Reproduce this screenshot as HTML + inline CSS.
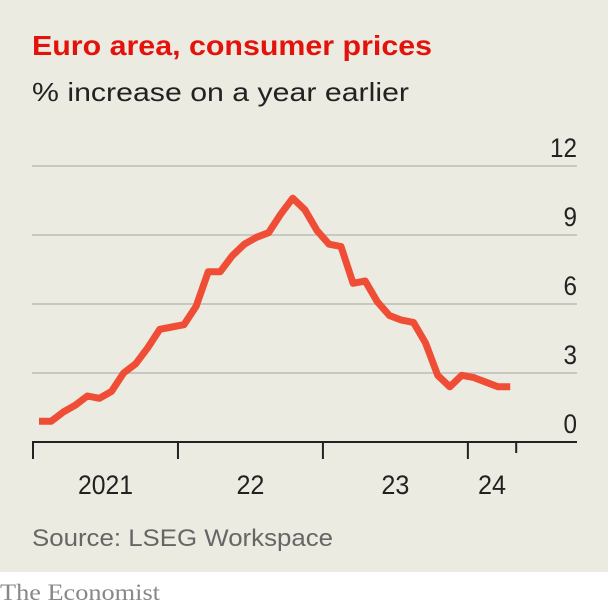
<!DOCTYPE html>
<html><head><meta charset="utf-8"><style>
html,body{margin:0;padding:0;background:#fff}
svg{display:block}
text{font-family:"Liberation Sans",sans-serif}
</style></head><body>
<svg id="chart" width="608" height="608" viewBox="0 0 608 608">
<rect x="0" y="0" width="608" height="572" fill="#ecebe1"/>
<rect x="0" y="572" width="608" height="36" fill="#ffffff"/>
<text x="32" y="55" font-size="28" font-weight="bold" fill="#e3120b" textLength="400" lengthAdjust="spacingAndGlyphs">Euro area, consumer prices</text>
<text x="32" y="101" font-size="26" fill="#222" textLength="377" lengthAdjust="spacingAndGlyphs">% increase on a year earlier</text>
<g id="grid"></g>
<g id="ylabels"></g>
<g id="xaxis"></g>
<path id="line" fill="none" stroke="#ef4d36" stroke-width="7" stroke-linejoin="round"/>
<text x="32" y="546" font-size="24" fill="#666" textLength="301" lengthAdjust="spacingAndGlyphs">Source: LSEG Workspace</text>
<text x="0" y="600" font-size="23" fill="#888" style="font-family:'Liberation Serif',serif" textLength="160" lengthAdjust="spacingAndGlyphs">The Economist</text>
</svg>
<script>
const values = [0.9,0.9,1.3,1.6,2.0,1.9,2.2,3.0,3.4,4.1,4.9,5.0,
  5.1,5.9,7.4,7.4,8.1,8.6,8.9,9.1,9.9,10.6,10.1,9.2,
  8.6,8.5,6.9,7.0,6.1,5.5,5.3,5.2,4.3,2.9,2.4,2.9,
  2.8,2.6,2.4,2.4];
const yTicks = [0,3,6,9,12];
const yearLabels = ["2021","22","23","24"];
const yearStarts = [0,12,24,36];
const NS="http://www.w3.org/2000/svg";
const x0=33, monthW=12.08;
const xs = m => x0 + monthW*m;
const ys = v => 442 - v*23;
const digitW = 13.5;
const grid=document.getElementById('grid'), yl=document.getElementById('ylabels'), xa=document.getElementById('xaxis');
yTicks.forEach(t=>{
  if(t>0){
    const l=document.createElementNS(NS,'line');
    l.setAttribute('x1',32);l.setAttribute('x2',577);l.setAttribute('y1',ys(t));l.setAttribute('y2',ys(t));
    l.setAttribute('stroke','#c8c8c2');l.setAttribute('stroke-width','2');
    
    
    grid.appendChild(l);
  }
  const tx=document.createElementNS(NS,'text');
  tx.setAttribute('x',577);tx.setAttribute('y',ys(t)-9);tx.setAttribute('text-anchor','end');
  tx.setAttribute('font-size','27');tx.setAttribute('fill','#222');
  tx.setAttribute('textLength',String(t).length*digitW);tx.setAttribute('lengthAdjust','spacingAndGlyphs');
  tx.textContent=t;
  
  
  yl.appendChild(tx);
});
const ax=document.createElementNS(NS,'line');
ax.setAttribute('x1',32);ax.setAttribute('x2',577);ax.setAttribute('y1',ys(0));ax.setAttribute('y2',ys(0));
ax.setAttribute('stroke','#222');ax.setAttribute('stroke-width','2');


xa.appendChild(ax);
const tickMonths=[0,12,24,36,values.length];
tickMonths.forEach((m,i)=>{
  const t=document.createElementNS(NS,'line');
  const x=xs(m);
  t.setAttribute('x1',x);t.setAttribute('x2',x);t.setAttribute('y1',ys(0));t.setAttribute('y2',ys(0)+(i===4?11:17));
  t.setAttribute('stroke','#222');t.setAttribute('stroke-width','2');
  
  
  xa.appendChild(t);
});
yearLabels.forEach((lab,i)=>{
  const s=yearStarts[i];
  const e=i<yearLabels.length-1?yearStarts[i+1]:values.length;
  const tx=document.createElementNS(NS,'text');
  tx.setAttribute('x',xs((s+e)/2));tx.setAttribute('y',494);tx.setAttribute('text-anchor','middle');
  tx.setAttribute('font-size','27');tx.setAttribute('fill','#222');
  tx.setAttribute('textLength',lab.length*digitW+1);tx.setAttribute('lengthAdjust','spacingAndGlyphs');
  tx.textContent=lab;
  
  
  xa.appendChild(tx);
});
let d='';
values.forEach((v,i)=>{d+=(i?'L':'M')+xs(i+0.5).toFixed(1)+','+ys(v).toFixed(1);});
document.getElementById('line').setAttribute('d',d);
</script>
</body></html>
